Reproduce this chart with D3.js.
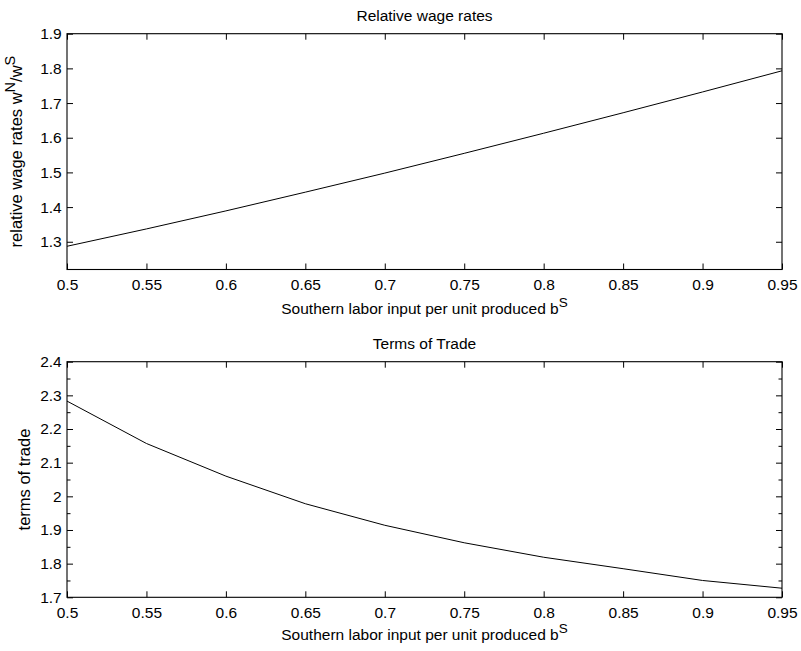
<!DOCTYPE html>
<html>
<head>
<meta charset="utf-8">
<script src="https://cdn.jsdelivr.net/npm/d3@7"></script>
<style>
  html, body { margin: 0; padding: 0; background: #fff; }
  svg text { font-family: "Liberation Sans", Arial, Helvetica, sans-serif; fill: #000; }
</style>
</head>
<body>
<svg id="chart" width="801" height="651"></svg>
<script>
// ---- data ----
const bS = [0.5, 0.55, 0.6, 0.65, 0.7, 0.75, 0.8, 0.85, 0.9, 0.95];
const relWage = [1.287, 1.337, 1.389, 1.443, 1.498, 1.555, 1.613, 1.672, 1.732, 1.793];
const termsOfTrade = [2.283, 2.157, 2.060, 1.978, 1.914, 1.862, 1.819, 1.785, 1.750, 1.727];
const xTickValues = [0.5, 0.55, 0.6, 0.65, 0.7, 0.75, 0.8, 0.85, 0.9, 0.95];
const yTicksTop = [1.3, 1.4, 1.5, 1.6, 1.7, 1.8, 1.9];
const yTicksBottom = [1.7, 1.8, 1.9, 2.0, 2.1, 2.2, 2.3, 2.4];
const yMinorBottom = [1.75, 1.85, 1.95, 2.05, 2.15, 2.25, 2.35];
const titles = ["Relative wage rates", "Terms of Trade"];

const svg = d3.select("#chart");
const FS = 15.5;
const FSY = 16.5;
const left = 67, right = 782;

const panels = [
  { top: 33.7, bottom: 269.5, domain: [1.22, 1.9], values: relWage, yTicks: yTicksTop, yMinor: [],
    title: titles[0], titleY: 20.7, xlabY: 314, ylabX: 22, ylab: "rel" },
  { top: 361.7, bottom: 597.3, domain: [1.7, 2.4], values: termsOfTrade, yTicks: yTicksBottom, yMinor: yMinorBottom,
    title: titles[1], titleY: 349.3, xlabY: 640, ylabX: 30, ylab: "tot" }
];

const x = d3.scaleLinear().domain([0.5, 0.95]).range([left, right]);
const fmtX = v => String(+v.toFixed(2));
const fmtY = v => String(+v.toFixed(1));

panels.forEach(p => {
  const y = d3.scaleLinear().domain(p.domain).range([p.bottom, p.top]);
  const g = svg.append("g");

  // line
  g.append("path")
    .datum(bS.map((b, i) => [b, p.values[i]]))
    .attr("fill", "none").attr("stroke", "#000").attr("stroke-width", 1)
    .attr("d", d3.line().x(d => x(d[0])).y(d => y(d[1])));

  // axes (ticks inward)
  g.append("g").attr("transform", `translate(0,${p.bottom})`)
    .call(d3.axisBottom(x).tickValues(xTickValues).tickFormat(fmtX).tickSize(-6).tickPadding(9.3));
  g.append("g").attr("transform", `translate(0,${p.top})`)
    .call(d3.axisTop(x).tickValues(xTickValues).tickFormat("").tickSize(-6));
  g.append("g").attr("transform", `translate(${left},0)`)
    .call(d3.axisLeft(y).tickValues(p.yTicks).tickFormat(fmtY).tickSize(-6).tickPadding(5.3));
  g.append("g").attr("transform", `translate(${right},0)`)
    .call(d3.axisRight(y).tickValues(p.yTicks).tickFormat("").tickSize(-6));
  if (p.yMinor.length) {
    g.append("g").attr("transform", `translate(${left},0)`)
      .call(d3.axisLeft(y).tickValues(p.yMinor).tickFormat("").tickSize(-3.5));
    g.append("g").attr("transform", `translate(${right},0)`)
      .call(d3.axisRight(y).tickValues(p.yMinor).tickFormat("").tickSize(-3.5));
  }
  g.selectAll(".domain").remove();
  g.selectAll(".tick line").attr("stroke", "#000").attr("stroke-width", 1);
  g.selectAll(".tick text").attr("font-size", FS).attr("fill", "#000")
    .style("font-family", '"Liberation Sans", Arial, Helvetica, sans-serif');

  // box
  g.append("rect").attr("x", left).attr("y", p.top)
    .attr("width", right - left).attr("height", p.bottom - p.top)
    .attr("fill", "none").attr("stroke", "#000").attr("stroke-width", 1.1);

  // title
  g.append("text").attr("x", (left + right) / 2).attr("y", p.titleY)
    .attr("text-anchor", "middle").attr("font-size", FS).text(p.title);

  // x label with superscript
  const xl = g.append("text").attr("x", (left + right) / 2).attr("y", p.xlabY)
    .attr("text-anchor", "middle").attr("font-size", FS);
  xl.append("tspan").text("Southern labor input per unit produced b");
  xl.append("tspan").attr("dy", -7).attr("font-size", 13.5).text("S");

  // y label
  const cy = (p.top + p.bottom) / 2;
  const yl = g.append("text")
    .attr("transform", `translate(${p.ylabX},${cy}) rotate(-90)`)
    .attr("text-anchor", "middle").attr("font-size", FSY);
  if (p.ylab === "rel") {
    yl.append("tspan").text("relative wage rates w");
    yl.append("tspan").attr("dy", -7.5).attr("font-size", 14.5).text("N");
    yl.append("tspan").attr("dy", 7.5).text("/w");
    yl.append("tspan").attr("dy", -7.5).attr("font-size", 14.5).text("S");
  } else {
    yl.text("terms of trade");
  }
});
</script>
</body>
</html>
